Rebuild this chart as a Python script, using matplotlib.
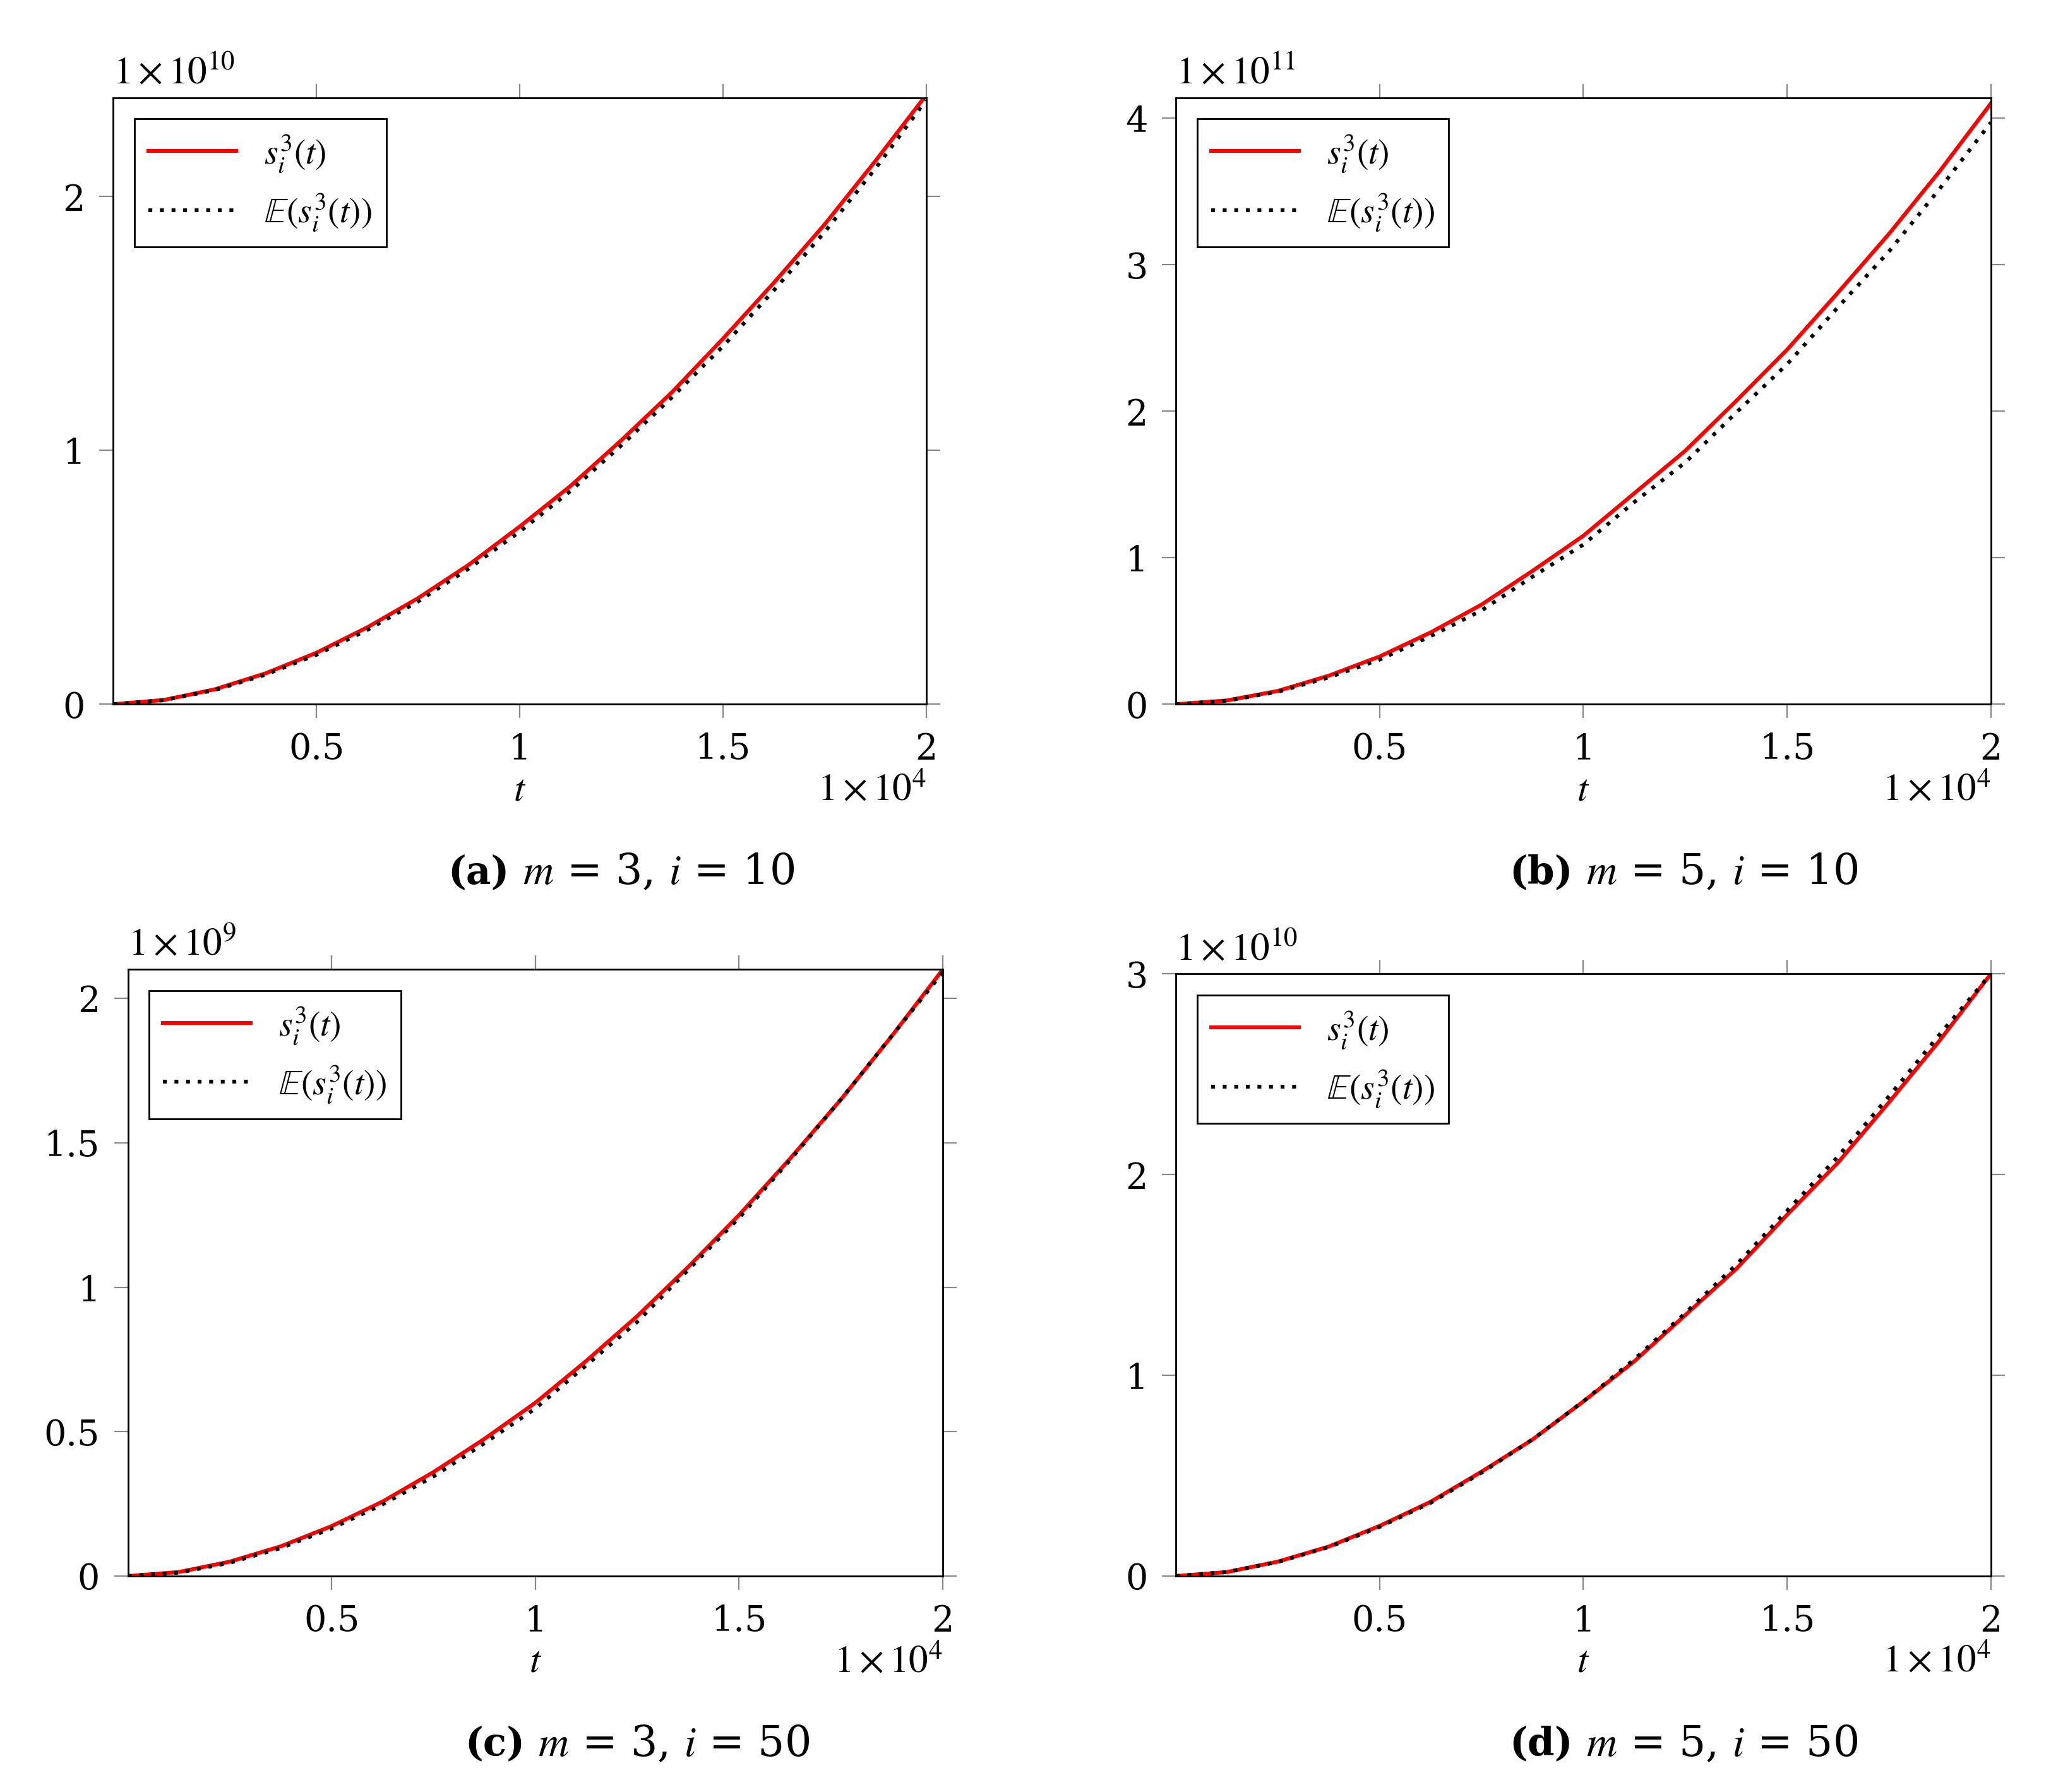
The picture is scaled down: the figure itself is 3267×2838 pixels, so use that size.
import matplotlib
matplotlib.use("Agg")
import matplotlib.pyplot as plt

plt.rcParams['font.family'] = ['DejaVu Serif']
plt.rcParams['mathtext.fontset'] = 'stix'

t = [0, 0.125, 0.25, 0.375, 0.5, 0.625, 0.75, 0.875, 1.0, 1.125, 1.25, 1.375,
     1.5, 1.625, 1.75, 1.875, 2.0]
a_s = [0, 0.017, 0.059, 0.122, 0.203, 0.303, 0.418, 0.55, 0.70, 0.86, 1.04, 1.23,
       1.44, 1.66, 1.89, 2.14, 2.40]
a_e = [0, 0.016, 0.056, 0.117, 0.195, 0.293, 0.405, 0.535, 0.68, 0.84, 1.02, 1.21,
       1.41, 1.63, 1.86, 2.11, 2.38]
b_s = [0, 0.026, 0.091, 0.195, 0.326, 0.49, 0.68, 0.91, 1.15, 1.44, 1.73, 2.07,
       2.42, 2.81, 3.21, 3.64, 4.10]
b_e = [0, 0.024, 0.085, 0.183, 0.305, 0.465, 0.64, 0.87, 1.09, 1.38, 1.65, 1.99,
       2.32, 2.71, 3.09, 3.52, 3.97]
c_s = [0, 0.014, 0.050, 0.103, 0.173, 0.258, 0.36, 0.475, 0.60, 0.745, 0.90, 1.07,
       1.25, 1.445, 1.65, 1.87, 2.10]
c_e = [0, 0.012, 0.046, 0.097, 0.165, 0.248, 0.345, 0.46, 0.58, 0.73, 0.88, 1.06,
       1.24, 1.44, 1.65, 1.87, 2.09]
d_s = [0, 0.020, 0.072, 0.147, 0.25, 0.37, 0.52, 0.68, 0.87, 1.07, 1.30, 1.53,
       1.80, 2.06, 2.36, 2.67, 3.00]
d_e = [0, 0.020, 0.070, 0.144, 0.245, 0.365, 0.515, 0.68, 0.87, 1.08, 1.31, 1.55,
       1.82, 2.09, 2.39, 2.70, 3.00]

xticks = [0.5, 1, 1.5, 2]
xticklabels = ['0.5', '1', '1.5', '2']

panels = [
    dict(pos=[0.0549, 0.607, 0.394, 0.3385], s=a_s, e=a_e, ylim=2.39,
         yt=[0, 1, 2], ytl=['0', '1', '2'], exp=r'$1\times10^{10}$',
         cap=('(a)', r' $m$ = 3, $i$ = 10')),
    dict(pos=[0.570, 0.607, 0.395, 0.3385], s=b_s, e=b_e, ylim=4.14,
         yt=[0, 1, 2, 3, 4], ytl=['0', '1', '2', '3', '4'], exp=r'$1\times10^{11}$',
         cap=('(b)', r' $m$ = 5, $i$ = 10')),
    dict(pos=[0.062, 0.1205, 0.395, 0.3385], s=c_s, e=c_e, ylim=2.1,
         yt=[0, 0.5, 1, 1.5, 2], ytl=['0', '0.5', '1', '1.5', '2'], exp=r'$1\times10^{9}$',
         cap=('(c)', r' $m$ = 3, $i$ = 50')),
    dict(pos=[0.570, 0.1205, 0.395, 0.336], s=d_s, e=d_e, ylim=3.0,
         yt=[0, 1, 2, 3], ytl=['0', '1', '2', '3'], exp=r'$1\times10^{10}$',
         cap=('(d)', r' $m$ = 5, $i$ = 50')),
]

fig = plt.figure(figsize=(16.335, 14.19), dpi=200)
fs = 20
for p in panels:
    ax = fig.add_axes(p['pos'])
    ax.plot(t, p['s'], color='red', lw=2.2, label=r'$s_i^3(t)$')
    ax.plot(t, p['e'], color='black', lw=2.2, ls=(0, (1, 2)), label=r'$\mathbb{E}(s_i^3(t))$')
    ax.set_xlim(0, 2)
    ax.set_ylim(0, p['ylim'])
    ax.set_xticks(xticks)
    ax.set_xticklabels(xticklabels)
    ax.set_yticks(p['yt'])
    ax.set_yticklabels(p['ytl'])
    ax.tick_params(direction='out', top=True, right=True, length=8, width=0.8,
                   color='#888888', labelsize=fs, pad=8)
    for sp in ax.spines.values():
        sp.set_linewidth(1.0)
    ax.set_xlabel(r'$t$', fontsize=fs + 2, labelpad=2)
    ax.text(0.0, 1.01, p['exp'], transform=ax.transAxes, fontsize=fs + 2, ha='left', va='bottom')
    ax.text(1.0, -0.11, r'$1\times10^{4}$', transform=ax.transAxes, fontsize=fs + 2, ha='right', va='top')
    leg = ax.legend(loc='upper left', fontsize=fs, fancybox=False, edgecolor='black',
                    framealpha=1, handlelength=2.5, borderaxespad=0.6)
    leg.get_frame().set_linewidth(1.0)
    x0 = p['pos'][0] + p['pos'][2] / 2
    y0 = p['pos'][1] - 0.094
    fig.text(x0 - 0.005, y0, p['cap'][0], fontsize=fs + 2, fontweight='bold', ha='right', va='center')
    fig.text(x0 - 0.005, y0, p['cap'][1], fontsize=fs + 4, ha='left', va='center')

fig.savefig('out.png', dpi=200, facecolor='white')
